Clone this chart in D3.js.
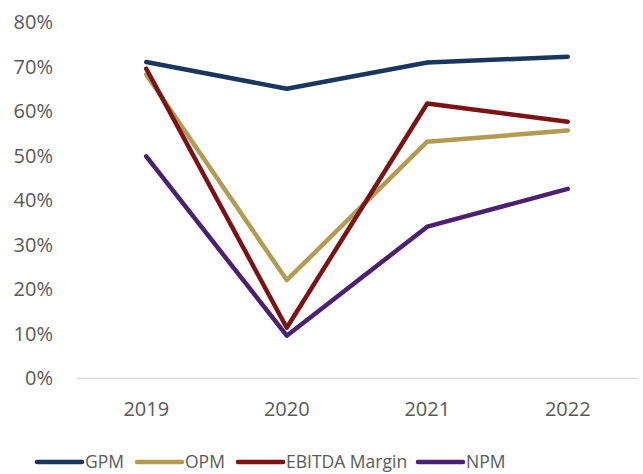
<!DOCTYPE html>
<html>
<head>
<meta charset="utf-8">
<style>
  body { margin: 0; background: #fff; }
  text { font-family: "Open Sans", "Liberation Sans", sans-serif; fill: #595959; }
</style>
</head>
<body>
<script src="https://cdn.jsdelivr.net/npm/d3@7"></script>
<script>
  var years = ["2019", "2020", "2021", "2022"];
  var gpm = [71.0, 65.0, 70.9, 72.2];
  var opm = [68.2, 22.0, 53.1, 55.6];
  var ebitda = [69.5, 11.3, 61.7, 57.6];
  var npm = [49.8, 9.5, 34.0, 42.5];
  var yTicks = [0, 10, 20, 30, 40, 50, 60, 70, 80];

  var series = [
    {name: "GPM", values: gpm, color: "#1b365d"},
    {name: "OPM", values: opm, color: "#b39b51"},
    {name: "EBITDA Margin", values: ebitda, color: "#7c1214"},
    {name: "NPM", values: npm, color: "#4c1f70"}
  ];

  var width = 643, height = 474;
  var svg = d3.select("body").append("svg")
    .attr("width", width)
    .attr("height", height);

  var xScale = d3.scaleBand()
    .domain(years)
    .range([76, 638]);

  var yScale = d3.scaleLinear()
    .domain([0, 80])
    .range([378, 22]);

  // y axis labels (no line)
  svg.append("g")
    .selectAll("text")
    .data(yTicks)
    .enter()
    .append("text")
      .attr("x", 53)
      .attr("y", function(d){ return yScale(d); })
      .attr("dy", "0.36em")
      .attr("text-anchor", "end")
      .style("font-size", "20px")
      .text(function(d){ return d + "%"; });

  // x axis
  var xAxis = svg.append("g")
    .attr("transform", "translate(0,378)")
    .call(d3.axisBottom(xScale).tickSize(0).tickPadding(24));
  xAxis.select(".domain").attr("stroke", "#d9d9d9").attr("stroke-width", 1.5);
  xAxis.selectAll("text")
    .style("font-size", "20px")
    .style("font-family", "'Open Sans', sans-serif")
    .attr("fill", "#595959");

  var line = d3.line()
    .x(function(d, i){ return xScale(years[i]) + xScale.bandwidth() / 2; })
    .y(function(d){ return yScale(d); });

  svg.append("g")
    .selectAll("path")
    .data(series)
    .enter()
    .append("path")
      .attr("d", function(d){ return line(d.values); })
      .attr("fill", "none")
      .attr("stroke", function(d){ return d.color; })
      .attr("stroke-width", 4.5)
      .attr("stroke-linecap", "round")
      .attr("stroke-linejoin", "round");

  // legend
  var legendX = [37, 137, 238, 418];
  var legend = svg.append("g")
    .selectAll("g")
    .data(series)
    .enter()
    .append("g")
      .attr("transform", function(d, i){ return "translate(" + legendX[i] + ",462)"; });
  legend.append("line")
    .attr("x1", 0).attr("x2", 45)
    .attr("stroke", function(d){ return d.color; })
    .attr("stroke-width", 4.5)
    .attr("stroke-linecap", "round");
  legend.append("text")
    .attr("x", 48)
    .attr("dy", "0.36em")
    .style("font-size", "17.5px")
    .text(function(d){ return d.name; });
</script>
</body>
</html>
